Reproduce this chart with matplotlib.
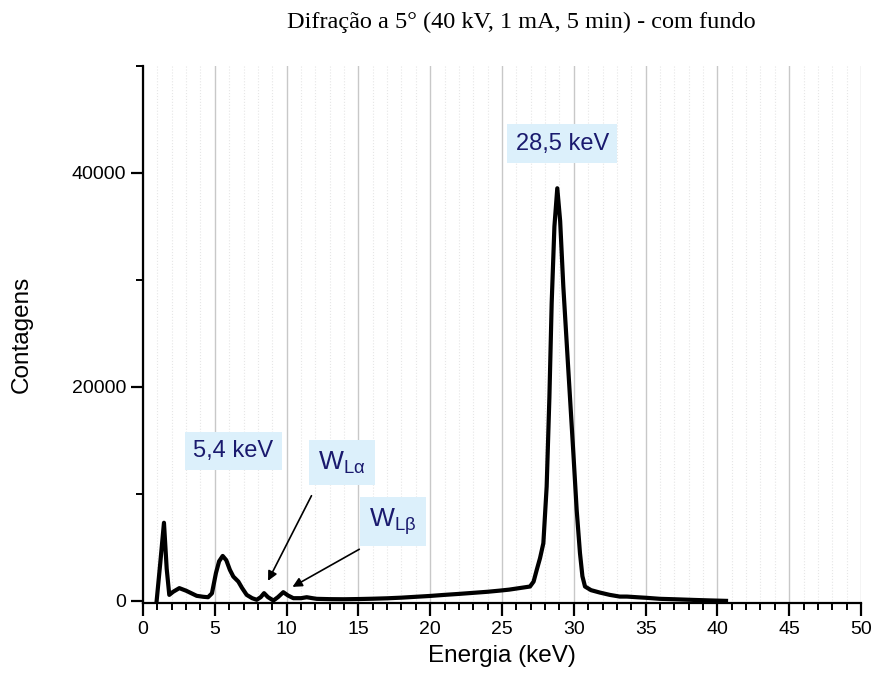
import matplotlib
matplotlib.use("Agg")
import matplotlib.pyplot as plt
import numpy as np
from matplotlib.ticker import MultipleLocator

# spectrum (keV, counts)
energia = [0.95, 1.2, 1.46, 1.65, 1.83, 2.1, 2.53, 3.0, 3.74, 4.2, 4.53, 4.8, 5.08,
           5.3, 5.55, 5.8, 6.05, 6.29, 6.64, 6.9, 7.22, 7.6, 7.92, 8.2, 8.43, 8.7,
           9.08, 9.4, 9.77, 10.1, 10.47, 11.0, 11.4, 11.8, 12.1, 13.0, 14.0, 15.0,
           16.0, 17.0, 18.0, 19.0, 20.0, 21.0, 22.0, 23.0, 24.0, 24.86, 25.5, 26.0,
           26.5, 26.95, 27.2, 27.42, 27.65, 27.88, 28.11, 28.3, 28.46, 28.65, 28.85,
           29.05, 29.27, 29.6, 29.97, 30.2, 30.43, 30.6, 30.78, 31.2, 31.8, 32.5,
           33.2, 33.7, 34.5, 35.0, 36.0, 37.0, 38.3, 39.5, 40.6]
contagens = [0, 3500, 7300, 3000, 560, 850, 1190, 950, 470, 380, 340, 700, 2600,
             3700, 4200, 3800, 2900, 2270, 1800, 1200, 560, 250, 100, 350, 720, 350,
             30, 350, 810, 500, 250, 250, 340, 250, 190, 160, 150, 170,
             200, 240, 300, 380, 460, 560, 650, 750, 850, 960, 1050, 1150,
             1250, 1340, 1800, 2900, 4000, 5390, 10680, 19000, 27850, 35000, 38570,
             35500, 29380, 22000, 13800, 8500, 4460, 2300, 1340, 1000, 780, 560,
             400, 400, 330, 290, 190, 150, 90, 40, 0]

titulo = "Difração a 5° (40 kV, 1 mA, 5 min) - com fundo"
rotulo_x = "Energia (keV)"
rotulo_y = "Contagens"

fig = plt.figure(figsize=(8.8, 6.82), dpi=100)
ax = fig.add_axes([143/880, 1-603/682, (861-143)/880, 537/682])

ax.plot(energia, contagens, color='black', lw=3, solid_joinstyle='round', zorder=3)

ax.set_xlim(0, 50)
ax.set_ylim(-200, 50000)
ax.xaxis.set_major_locator(MultipleLocator(5))
ax.xaxis.set_minor_locator(MultipleLocator(1))
ax.set_yticks([0, 20000, 40000])
ax.yaxis.set_minor_locator(MultipleLocator(10000))

ax.grid(which='major', axis='x', color='#c8c8c8', lw=1.0, zorder=0)
ax.grid(which='minor', axis='x', color='#e6e6e6', lw=0.8, ls=':', zorder=0)

for s in ['top', 'right']:
    ax.spines[s].set_visible(False)
for s in ['left', 'bottom']:
    ax.spines[s].set_linewidth(1.6)

ax.tick_params(which='major', length=9, width=1.6, labelsize=14, pad=4)
ax.tick_params(axis='y', which='major', pad=3)
ax.tick_params(which='minor', length=5, width=1.4)
for lab in ax.get_xticklabels() + ax.get_yticklabels():
    lab.set_family('Liberation Sans')

ax.set_xlabel(rotulo_x, fontsize=17.5, family='Liberation Sans', labelpad=5)
ax.set_ylabel(rotulo_y, fontsize=17.5, family='Liberation Sans', labelpad=28)
fig.text(521/880, 1-22/682, titulo, ha='center', va='center', fontsize=17.5,
         family='Liberation Serif')

caixa = dict(boxstyle='square,pad=0.35', fc='#dcf0fb', ec='none')
cor = '#1a1a6e'
ax.text(29.2, 42750, "28,5 keV", ha='center', va='center', fontsize=17,
        color=cor, family='Liberation Sans', bbox=caixa, zorder=4)
ax.text(6.3, 14000, "5,4 keV", ha='center', va='center', fontsize=17,
        color=cor, family='Liberation Sans', bbox=caixa, zorder=4)
ax.text(13.85, 12900, r"W$_{\mathregular{L\alpha}}$", ha='center', va='center',
        fontsize=19, color=cor, family='Liberation Sans', bbox=caixa, zorder=4)
ax.text(17.4, 7400, r"W$_{\mathregular{L\beta}}$", ha='center', va='center',
        fontsize=19, color=cor, family='Liberation Sans', bbox=caixa, zorder=4)

seta = dict(arrowstyle='-|>', color='black', lw=1.2, mutation_scale=14)
ax.annotate("", xy=(8.62, 1640), xytext=(11.82, 10060), arrowprops=seta, zorder=4)
ax.annotate("", xy=(10.24, 1180), xytext=(15.23, 4950), arrowprops=seta, zorder=4)

fig.savefig("out.png", dpi=100)
